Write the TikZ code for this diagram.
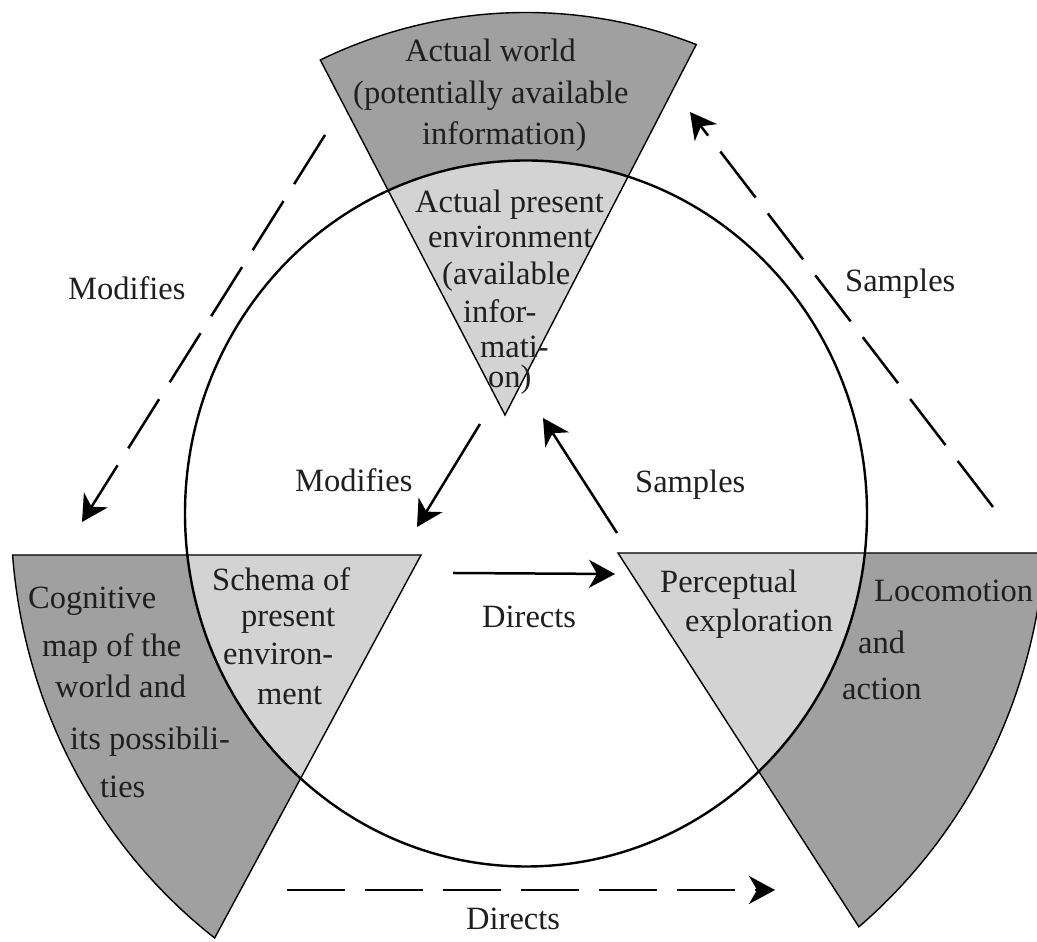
\documentclass[tikz,border=0pt]{standalone}
\usepackage{fontspec}
\setmainfont{Liberation Serif}
\usetikzlibrary{arrows.meta}
\definecolor{darkfill}{RGB}{160,160,160}
\definecolor{lightfill}{RGB}{211,211,211}
\newcommand\wedgeTop{(505,527) -- (320.3,882.0) arc[start angle=115.15, end angle=69.4, x radius=484pt, y radius=501pt] -- cycle}
\newcommand\wedgeLeft{(421,387) -- (12.6,387) arc[start angle=184.47, end angle=232.8, x radius=515pt, y radius=533pt] -- cycle}
\newcommand\wedgeRight{(618,389) -- (1044.6,389) arc[start angle=-4.21, end angle=-50.2, x radius=520pt, y radius=538pt] -- cycle}
\begin{document}
\begin{tikzpicture}[x=1pt,y=1pt,
  txt/.style={font=\fontsize{32.5}{36}\selectfont, inner sep=0pt, anchor=base west, text=black!88},
  wedgeline/.style={draw=black, line width=1.4pt},
  ring/.style={draw=black, line width=2.4pt},
  conn/.style={line width=2.5pt, -{Stealth[length=26pt,width=28pt,inset=8pt]}},
  dconn/.style={conn, dash pattern=on 58pt off 20pt}]
\useasboundingbox (0,0) rectangle (1037,942);
\clip (0,0) rectangle (1037,942);
\coordinate (C) at (526,428.5);
% outer (dark) parts
\fill[darkfill] \wedgeTop;
\fill[darkfill] \wedgeLeft;
\fill[darkfill] \wedgeRight;
% inner (light) parts
\begin{scope}
  \clip (C) ellipse [x radius=341pt, y radius=353pt];
  \fill[lightfill] \wedgeTop;
  \fill[lightfill] \wedgeLeft;
  \fill[lightfill] \wedgeRight;
\end{scope}
\draw[wedgeline] \wedgeTop;
\draw[wedgeline] \wedgeLeft;
\draw[wedgeline] \wedgeRight;
\draw[ring] (C) ellipse [x radius=341pt, y radius=353pt];
% texts
\node[txt] (aw1) at (405,880) {Actual world};
\node[txt] (aw2) at (353,838) {(potentially available};
\node[txt] (aw3) at (422,797) {information)};
\node[txt] (ap1) at (415,729) {Actual present};
\node[txt] (ap2) at (428,694) {environment};
\node[txt] (ap3) at (442,657) {(available};
\node[txt] (ap4) at (463,619) {infor-};
\node[txt] (ap5) at (480,584) {mati-};
\node[txt] (ap6) at (488,554) {on)};
\node[txt] (cm1) at (28,333) {Cognitive};
\node[txt] (cm2) at (42,285) {map of the};
\node[txt] (cm3) at (55,244) {world and};
\node[txt] (cm4) at (70,192) {its possibili-};
\node[txt] (cm5) at (100,144) {ties};
\node[txt] (sc1) at (212,351) {Schema of};
\node[txt] (sc2) at (241,315) {present};
\node[txt] (sc3) at (223,277) {environ-};
\node[txt] (sc4) at (257,237) {ment};
\node[txt] (pe1) at (660,349) {Perceptual};
\node[txt] (pe2) at (685,310) {exploration};
\node[txt] (lo1) at (874,340) {Locomotion};
\node[txt] (lo2) at (858,288) {and};
\node[txt] (lo3) at (842,242) {action};
\node[txt] (modout) at (68,642) {Modifies};
\node[txt] (modin) at (295,450) {Modifies};
\node[txt] (samin) at (635,449) {Samples};
\node[txt] (samout) at (845,650) {Samples};
\node[txt] (dirmid) at (482,314) {Directs};
\node[txt] (dirbot) at (466,12) {Directs};
% connector end points
\coordinate (mo1) at (325,807); \coordinate (mo2) at (82,420);
\coordinate (so1) at (993,435); \coordinate (so2) at (690,830);
\coordinate (mi1) at (480,518); \coordinate (mi2) at (417,415);
\coordinate (si1) at (617,409); \coordinate (si2) at (543,524);
\coordinate (di1) at (453,369); \coordinate (di2) at (615,368);
\coordinate (db1) at (287,52);  \coordinate (db2) at (775,52);
\draw[dconn] (mo1) -- (mo2);
\draw[dconn] (so1) -- (so2);
\draw[conn] (mi1) -- (mi2);
\draw[conn] (si1) -- (si2);
\draw[conn] (di1) -- (di2);
\draw[dconn] (db1) -- (db2);
\end{tikzpicture}
\end{document}
